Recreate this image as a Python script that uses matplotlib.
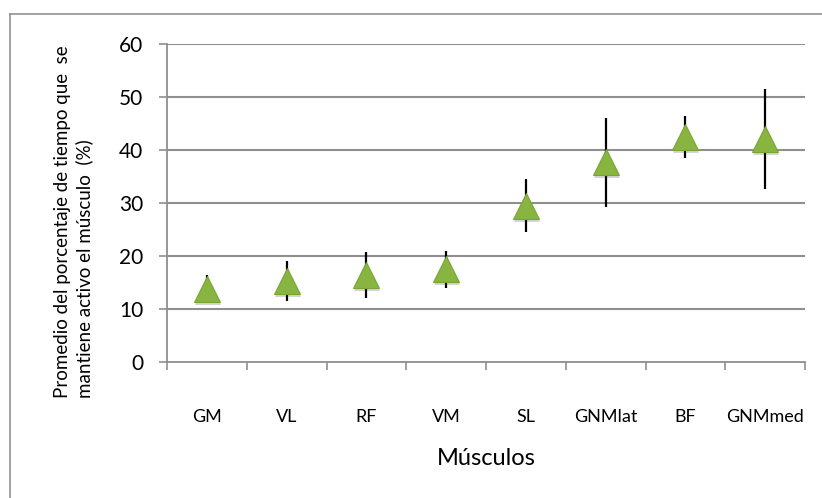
import matplotlib
matplotlib.use("Agg")
import matplotlib.pyplot as plt
import matplotlib.transforms as mtransforms
from matplotlib.lines import Line2D
import numpy as np

# Mean share of time each muscle stays active (%) and its standard deviation
muscles = ["GM", "VL", "RF", "VM", "SL", "GNMlat", "BF", "GNMmed"]
mean_pct = [13.8, 15.3, 16.4, 17.5, 29.5, 37.7, 42.4, 42.1]
sd_pct = [2.6, 3.7, 4.4, 3.5, 5.0, 8.4, 4.0, 9.4]
y_ticks = [0, 10, 20, 30, 40, 50, 60]

plt.rcParams['font.family'] = ['Lato', 'DejaVu Sans']

W, H = 822, 498
fig = plt.figure(figsize=(W / 100, H / 100), dpi=100)
ax = fig.add_axes([167 / W, 1 - 362 / H, (805 - 167) / W, (362 - 44) / H])

grid_col = '#8f8f8f'
x = np.arange(len(muscles))

# error bars sit behind the markers
ax.errorbar(x, mean_pct, yerr=sd_pct, fmt='none', ecolor='black',
            elinewidth=1.6, capsize=0, zorder=3)

# soft drop shadow under each triangle
shadow = mtransforms.offset_copy(ax.transData, fig=fig, x=1, y=-3, units='dots')
ax.plot(x, mean_pct, linestyle='none', marker='^', markersize=19,
        color='#444444', alpha=0.22, markeredgewidth=0,
        transform=shadow, zorder=3.5)
ax.plot(x, mean_pct, linestyle='none', marker='^', markersize=19,
        markerfacecolor='#88b540', markeredgecolor='#78a434',
        markeredgewidth=0.8, zorder=4)

ax.set_xlim(-0.5, len(muscles) - 0.5)
ax.set_ylim(y_ticks[0], y_ticks[-1])

# horizontal gridlines
ax.set_yticks(y_ticks)
for v in y_ticks[1:]:
    ax.axhline(v, color=grid_col, linewidth=1.5, zorder=1)

for s in ('top', 'right'):
    ax.spines[s].set_visible(False)
for s in ('left', 'bottom'):
    ax.spines[s].set_color(grid_col)
    ax.spines[s].set_linewidth(1.3)

ax.tick_params(axis='y', direction='out', length=6, width=1.2,
               color=grid_col, labelsize=15, pad=11)
ax.set_xticks(x)
ax.set_xticklabels(muscles)
ax.set_xticks(np.arange(-0.5, len(muscles)), minor=True)
ax.tick_params(axis='x', which='major', length=0, labelsize=13, pad=34)
ax.tick_params(axis='x', which='minor', direction='out', length=6,
               width=1.2, color=grid_col)

ax.set_xlabel('Músculos', fontsize=17)
ax.xaxis.label.set_va('center')
ax.xaxis.set_label_coords(0.5, (362 - 458) / 318)

# two-line vertical axis title, lines starting from the same baseline end
fig.text(74 / W, 1 - 398 / H,
         'Promedio del porcentaje de tiempo que  se\n'
         'mantiene activo el músculo  (%)',
         rotation=90, ha='center', va='bottom', multialignment='left',
         fontsize=13.5, linespacing=1.28)

# chart-area frame
y_top = 1 - 14 / H
fig.add_artist(Line2D([10 / W, 1], [y_top, y_top], transform=fig.transFigure,
                      color='#9a9a9a', linewidth=1.3))
fig.add_artist(Line2D([10 / W, 10 / W], [0, y_top], transform=fig.transFigure,
                      color='#9a9a9a', linewidth=1.3))

fig.savefig('out.png', dpi=100, facecolor='white')
